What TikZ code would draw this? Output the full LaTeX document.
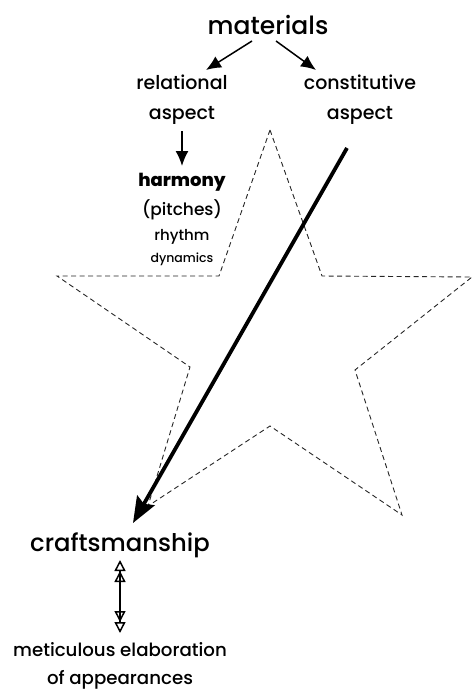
\documentclass[tikz,border=0pt]{standalone}
\usepackage{fontspec}
\setmainfont{Poppins}[UprightFont={* Medium},BoldFont={* ExtraBold}]
\usetikzlibrary{arrows.meta}
\begin{document}
\begin{tikzpicture}[x=1pt,y=1pt,
  txt/.style={inner sep=0pt,align=center},
  arr/.style={-{Latex[length=15pt,width=13pt]},line width=1.5pt},
  bigarr/.style={-{Stealth[length=26pt,width=20pt,inset=4pt]},line width=3.8pt},
  dbl/.style={{Triangle[open,length=11pt,width=11pt]Triangle[open,length=11pt,width=11pt]}-{Triangle[open,length=11pt,width=11pt]Triangle[open,length=11pt,width=11pt]},line width=1.5pt},
  starline/.style={dash pattern=on 5pt off 3.5pt,line width=0.9pt,black!85}]
\useasboundingbox (0,0) rectangle (473,-693);
\path[draw,starline] (270,-130) -- (322,-276) -- (472,-277) -- (355,-370) -- (402,-515)
  -- (270,-426) -- (148,-506) -- (190,-367) -- (57,-276) -- (219,-276) -- cycle;
\node[txt,font=\fontsize{25}{30}\selectfont] (materials) at (268,-25) {materials};
\node[txt,font=\fontsize{19}{30}\selectfont] (relational) at (182,-100) {relational\\aspect};
\node[txt,font=\fontsize{19}{30}\selectfont] (constitutive) at (360,-100) {constitutive\\aspect};
\node[txt,font=\fontsize{18}{22}\selectfont\bfseries] (harmony) at (182,-182) {harmony};
\node[txt,font=\fontsize{17}{20}\selectfont] (pitches) at (182,-210) {(pitches)};
\node[txt,font=\fontsize{15}{18}\selectfont] (rhythm) at (182,-237) {rhythm};
\node[txt,font=\fontsize{12.5}{15}\selectfont] (dynamics) at (182,-259) {dynamics};
\node[txt,font=\fontsize{24.3}{30}\selectfont] (craft) at (120,-545) {craftsmanship};
\node[txt,font=\fontsize{18.2}{28}\selectfont] (meticulous) at (120,-666) {meticulous elaboration\\of appearances};
\path[draw,arr] ([shift={(-16,-16)}]materials.center) -- ([shift={(24,30)}]relational.center);
\path[draw,arr] ([shift={(8,-16)}]materials.center) -- ([shift={(-44,30)}]constitutive.center);
\path[draw,arr] ([shift={(0,-31)}]relational.center) -- ([shift={(0,16)}]harmony.center);
\path[draw,bigarr] ([shift={(-13,-48)}]constitutive.center) -- ([shift={(13,22)}]craft.center);
\path[draw,dbl] ([shift={(0,-15)}]craft.center) -- ([shift={(0,33)}]meticulous.center);
\end{tikzpicture}
\end{document}
